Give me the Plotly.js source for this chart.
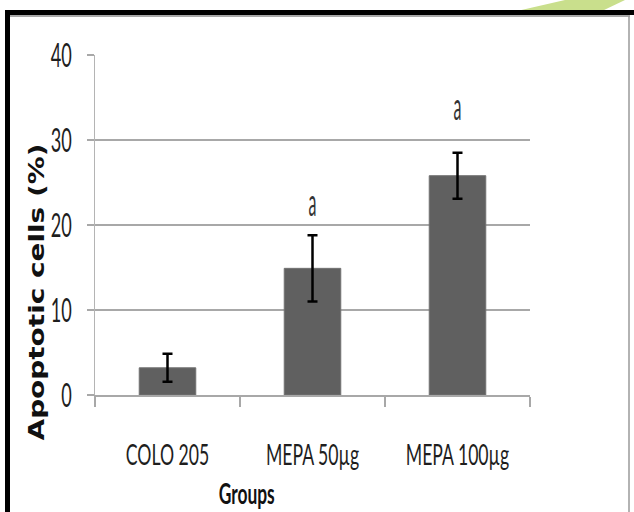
<!DOCTYPE html>
<html>
<head>
<meta charset="utf-8">
<script src="https://cdn.plot.ly/plotly-3.0.1.min.js"></script>
<style>
  html, body { margin: 0; padding: 0; background: #ffffff; }
  #chart { width: 634px; height: 512px; }
</style>
</head>
<body>
<div id="chart"></div>
<script>
// ---- data ----
var groups = ["COLO 205", "MEPA 50µg", "MEPA 100µg"];
var apoptoticPct = [3.2, 14.9, 25.8];
var errorPct = [1.65, 3.9, 2.7];
var sigLabels = ["", "a", "a"];
var sigLabelY = [null, 22.8, 34.1];
var yTickVals = [0, 10, 20, 30, 40];
var yTitle = "Apoptotic cells (%)";
var xTitle = "Groups";

// ---- geometry helpers (page pixels -> paper coords) ----
var W = 634, H = 512;
var mL = 95, mR = 104, mT = 55, mB = 117;
var pw = W - mL - mR, ph = H - mT - mB;
function px(x) { return (x - mL) / pw; }
function py(y) { return (H - mB - y) / ph; }

var tickFamily = "Lato, 'Open Sans', sans-serif";

var trace = {
  type: "bar",
  x: groups,
  y: apoptoticPct,
  width: 0.39,
  marker: { color: "#606060", line: { color: "#727272", width: 1 } },
  error_y: { type: "data", array: errorPct, visible: true, color: "#000000", thickness: 2.5, width: 5 },
  hoverinfo: "skip"
};

var annotations = [];
for (var i = 0; i < groups.length; i++) {
  if (sigLabels[i]) {
    annotations.push({
      x: groups[i], y: sigLabelY[i], xref: "x", yref: "y",
      text: sigLabels[i], showarrow: false, yanchor: "middle",
      font: { family: tickFamily, size: 38, color: "#333333" }
    });
  }
}
annotations.push({
  xref: "paper", yref: "paper", x: px(36), y: py(292),
  text: "<b>" + yTitle + "</b>", textangle: -90, showarrow: false,
  xanchor: "center", yanchor: "middle",
  font: { family: "'DejaVu Sans', Verdana, sans-serif", size: 22, color: "#111111" }
});
annotations.push({
  xref: "paper", yref: "paper", x: px(246), y: py(493),
  text: "<b>" + xTitle + "</b>", showarrow: false,
  xanchor: "center", yanchor: "middle",
  font: { family: tickFamily, size: 29, color: "#111111" }
});

var shapes = [
  // watermark
  { type: "path", xref: "paper", yref: "paper", layer: "below",
    path: "M " + px(517) + " " + py(11) + " L " + px(565) + " " + py(0) + " L " + px(625) + " " + py(0) + " L " + px(602) + " " + py(11) + " Z",
    fillcolor: "#c9df8c", line: { width: 0 } },
  // frame
  { type: "rect", xref: "paper", yref: "paper", x0: px(5), x1: px(634), y0: py(10), y1: py(15),
    fillcolor: "#000000", line: { width: 0 } },
  { type: "rect", xref: "paper", yref: "paper", x0: px(5), x1: px(10), y0: py(10), y1: py(512),
    fillcolor: "#000000", line: { width: 0 } },
  { type: "line", xref: "paper", yref: "paper", x0: px(10), x1: px(630), y0: py(16), y1: py(16),
    line: { color: "#a8a8a8", width: 2 } },
  { type: "line", xref: "paper", yref: "paper", x0: px(629), x1: px(629), y0: py(16), y1: py(512),
    line: { color: "#9a9a9a", width: 1.5 } }
];

var layout = {
  width: W, height: H,
  margin: { l: mL, r: mR, t: mT, b: mB, pad: 0 },
  paper_bgcolor: "#ffffff", plot_bgcolor: "#ffffff",
  showlegend: false,
  xaxis: {
    type: "category", range: [-0.5, 2.5], tickangle: 0,
    showline: true, linecolor: "#a8a8a8", linewidth: 2,
    ticks: "outside", tickson: "boundaries", ticklen: 10, tickcolor: "#a8a8a8", tickwidth: 1.5,
    showgrid: false, zeroline: false,
    ticklabelstandoff: 34,
    tickfont: { family: tickFamily, size: 28, color: "#1e1e1e" }
  },
  yaxis: {
    range: [0, 40], tickvals: yTickVals, ticktext: yTickVals.map(String),
    showgrid: true, gridcolor: "#a8a8a8", gridwidth: 2,
    showline: true, linecolor: "#b4b4b4", linewidth: 1.5,
    ticks: "outside", ticklen: 7, tickcolor: "#a8a8a8", tickwidth: 2,
    zeroline: false, ticklabelstandoff: 8,
    tickfont: { family: tickFamily, size: 33, color: "#1e1e1e" }
  },
  annotations: annotations,
  shapes: shapes
};

// condensed / stretched look of the original's text (annotations: CSS transform)
function squeeze(sel, sx) {
  document.querySelectorAll(sel).forEach(function (t) {
    t.style.transformBox = "fill-box";
    t.style.transformOrigin = "center center";
    t.style.transform = "scaleX(" + sx + ")";
  });
}
// tick labels carry a positioning transform attribute: compose with it
function squeezeTicks(sel, sx, anchor) {
  document.querySelectorAll(sel).forEach(function (t) {
    var bb = t.getBBox();
    var cx = anchor === "right" ? bb.x + bb.width : bb.x + bb.width / 2;
    var tr = t.getAttribute("transform") || "";
    t.setAttribute("transform", tr + " translate(" + cx + ",0) scale(" + sx + ",1) translate(" + (-cx) + ",0)");
  });
}

Plotly.newPlot("chart", [trace], layout, { displayModeBar: false, staticPlot: true }).then(function () {
  squeezeTicks("#chart .ytick text", 0.55, "right");
  squeezeTicks("#chart .xtick text", 0.63, "center");
  squeeze('#chart .annotation[data-index="0"] text', 0.42);
  squeeze('#chart .annotation[data-index="1"] text', 0.42);
  squeeze('#chart .annotation[data-index="2"] text', 1.27);
  squeeze('#chart .annotation[data-index="3"] text', 0.6);
});
</script>
</body>
</html>
